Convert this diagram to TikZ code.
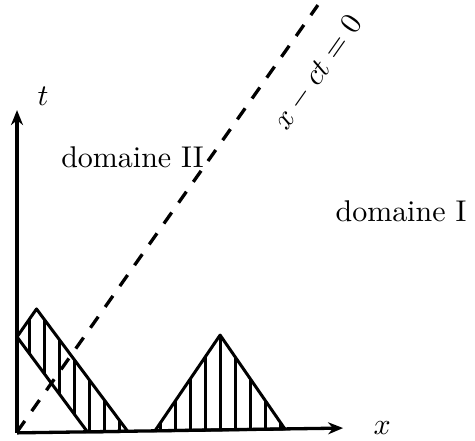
\documentclass[tikz,border=0pt]{standalone}
\usepackage{amsmath,amssymb}
\usetikzlibrary{arrows.meta,positioning,calc}

\begin{document}
\begin{tikzpicture}[x=10pt, y=10pt, line join=round,
    axis/.style={line width=1.1pt, -{Stealth[length=5pt,width=4pt]}},
    border/.style={line width=1pt},
    hatch/.style={line width=1pt},
    every node/.style={font=\normalsize}]
    \useasboundingbox (-0.567,-0.3) rectangle (15.267,14.4);
    % Characteristic line x-ct=0
    \draw[line width=1.1pt, dash pattern=on 4.5pt off 4pt] (0,0) coordinate (O) -- (10.03,14.23) coordinate (C);
    \node[rotate=54.8] (clab) at (10.03,11.97) {$x-ct=0$};
    % Axes
    \draw[axis] (0,-0.03) -- (0,10.73) coordinate (tend);
    \draw[axis] (0,-0.03) -- (10.87,0.13) coordinate (xend);
    \node (tlab) at (0.87,11.2) {$t$};
    \node (xlab) at (12.17,0.13) {$x$};
    % Hatched parallelogram
    \begin{scope}
      \clip (0,3.17) -- (0.65,4.1) -- (3.69,0.02) -- (2.35,0) -- cycle;
      \foreach \xx in {0.4,0.9,...,3.5}
        \draw[hatch] (\xx,-1) -- (\xx,5);
    \end{scope}
    \draw[border] (0,3.17) -- (0.65,4.1) -- (3.69,0.02) -- (2.35,0) -- cycle;
    % Hatched triangle
    \begin{scope}
      \clip (4.6,0.04) -- (6.77,3.23) -- (8.93,0.1) -- cycle;
      \foreach \xx in {4.77,5.27,...,8.9}
        \draw[hatch] (\xx,-1) -- (\xx,5);
    \end{scope}
    \draw[border] (4.6,0.04) -- (6.77,3.23) -- (8.93,0.1) -- cycle;
    % Domain labels
    \node (dII) at (3.85,9.17) {domaine II};
    \node (dI) at (12.8,7.37) {domaine I};
\end{tikzpicture}
\end{document}
